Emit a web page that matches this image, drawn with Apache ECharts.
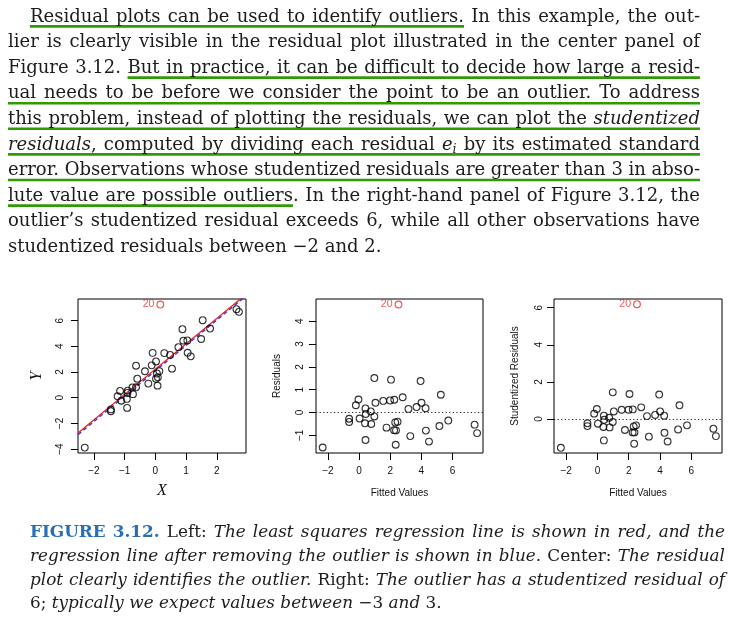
<!DOCTYPE html>
<html><head><meta charset="utf-8">
<script src="https://cdn.jsdelivr.net/npm/echarts@6/dist/echarts.min.js"></script>
<style>html,body{margin:0;padding:0;background:#fff}#c{width:734px;height:617px}</style>
</head><body><div id="c"></div>
<script>
// ---------------- data ----------------
const outlierIndex = 1;
const outlierLabel = '20';
const xVals = [-2.30, 0.16, -0.63, -0.09, 0.88, 1.54, -1.15, -1.23, -0.90, -0.59,
  -0.34, -0.12, 0.02, 0.29, 0.48, 0.75, 0.91, 1.04, -0.75, -0.91,
  -0.63, -1.11, -1.45, -1.45, -0.93, -0.73, -0.23, 0.05, 0.13, 0.02,
  0.08, 0.54, 1.05, 1.49, 1.78, 2.64, 2.72, -0.92, 0.07, 1.15];
const yVals = [-3.88, 7.25, 2.49, 3.49, 5.33, 6.03, 0.53, 0.11, 0.55, 1.48,
  2.06, 2.52, 2.82, 3.47, 3.33, 3.93, 4.44, 4.46, 0.80, 0.37,
  0.81, -0.23, -0.91, -1.05, -0.09, 0.28, 1.10, 1.89, 2.07, 1.48,
  1.59, 2.26, 3.50, 4.57, 5.38, 6.89, 6.68, -0.79, 0.94, 3.22];
const fittedVals = [-2.34, 2.53, 0.98, 2.05, 3.95, 5.25, -0.04, -0.21, 0.41, 1.05,
  1.55, 1.99, 2.26, 2.80, 3.17, 3.69, 4.01, 4.27, 0.75, 0.43,
  0.98, 0.03, -0.64, -0.64, 0.38, 0.78, 1.76, 2.32, 2.47, 2.25,
  2.37, 3.29, 4.29, 5.16, 5.73, 7.42, 7.58, 0.41, 2.35, 4.49];
const residualVals = [-1.53, 4.73, 1.51, 1.44, 1.38, 0.78, 0.57, 0.32, 0.18, 0.43,
  0.51, 0.53, 0.56, 0.67, 0.16, 0.24, 0.43, 0.19, 0.05, -0.06,
  -0.17, -0.26, -0.27, -0.41, -0.47, -0.50, -0.66, -0.43, -0.40, -0.77,
  -0.78, -1.03, -0.79, -0.59, -0.35, -0.53, -0.90, -1.20, -1.41, -1.27];
const studentVals = [-1.55, 6.19, 1.44, 1.35, 1.32, 0.74, 0.54, 0.29, 0.18, 0.41,
  0.50, 0.50, 0.52, 0.63, 0.16, 0.22, 0.41, 0.18, 0.07, -0.04,
  -0.16, -0.25, -0.23, -0.38, -0.43, -0.45, -0.59, -0.40, -0.34, -0.72,
  -0.72, -0.95, -0.74, -0.56, -0.34, -0.52, -0.92, -1.15, -1.33, -1.21];
// regression lines (end points in data units)
const redLine = [[-2.52, -2.74], [2.95, 8.04]];
const blueLine = [[-2.52, -2.87], [2.95, 7.92]];
// axis ranges and ticks
const leftXRange = [-2.52, 2.95], leftYRange = [-4.30, 7.68];
const midXRange = [-2.77, 7.96], midYRange = [-1.77, 4.97];
const rightXRange = [-2.78, 7.97], rightYRange = [-1.83, 6.47];
const leftXTicks = [-2, -1, 0, 1, 2];
const leftYTicks = [-4, -2, 0, 2, 4, 6];
const midXTicks = [-2, 0, 2, 4, 6];
const midYTicks = [-1, 0, 1, 2, 3, 4];
const rightXTicks = [-2, 0, 2, 4, 6];
const rightYTicks = [0, 2, 4, 6];
const axisNames = { leftX: 'X', leftY: 'Y', midX: 'Fitted Values', midY: 'Residuals', rightX: 'Fitted Values', rightY: 'Studentized Residuals' };

// ---------------- text ----------------
const bodyLines = [
  [['Residual plots can be used to identify outliers.', 'r', 1], [' In this example, the out-', 'r', 0]],
  [['lier is clearly visible in the residual plot illustrated in the center panel of', 'r', 0]],
  [['Figure 3.12. ', 'r', 0], ['But in practice, it can be difficult to decide how large a resid-', 'r', 1]],
  [['ual needs to be before we consider the point to be an outlier. To address', 'r', 1]],
  [['this problem, instead of plotting the residuals, we can plot the ', 'r', 1], ['studentized', 'i', 1]],
  [['residuals', 'i', 1], [', computed by dividing each residual ', 'r', 1], ['e', 'i', 1], ['i', 'sub', 1], [' by its estimated standard', 'r', 1]],
  [['error. Observations whose studentized residuals are greater than 3 in abso-', 'r', 1]],
  [['lute value are possible outliers', 'r', 1], ['. In the right-hand panel of Figure 3.12, the', 'r', 0]],
  [['outlier\u2019s studentized residual exceeds 6, while all other observations have', 'r', 0]],
  [['studentized residuals between \u22122 and 2.', 'r', 0]]
];
const bodyJustify = [1, 1, 1, 1, 1, 1, 1, 1, 1, 0];
const captionLines = [
  [['FIGURE 3.12.', 'b', 0], [' Left: ', 'r', 0], ['The least squares regression line is shown in red, and the', 'i', 0]],
  [['regression line after removing the outlier is shown in blue.', 'i', 0], [' Center: ', 'r', 0], ['The residual', 'i', 0]],
  [['plot clearly identifies the outlier.', 'i', 0], [' Right: ', 'r', 0], ['The outlier has a studentized residual of', 'i', 0]],
  [['6; ', 'r', 0], ['typically we expect values between ', 'i', 0], ['\u22123 ', 'r', 0], ['and ', 'i', 0], ['3.', 'r', 0]]
];
const captionJustify = [1, 1, 1, 0];

// ---------------- text layout helpers ----------------
function fontStr(k, size, fam) {
  if (k === 'i') return 'italic normal ' + size + 'px ' + fam;
  if (k === 'sub') return 'italic normal ' + (size * 0.7).toFixed(2) + 'px ' + fam;
  if (k === 'b') return 'normal bold ' + size + 'px ' + fam;
  return 'normal normal ' + size + 'px ' + fam;
}
function parseLine(segs) {
  const words = []; let cur = [];
  segs.forEach(function (s) {
    const parts = s[0].split(' ');
    parts.forEach(function (p, pi) {
      if (pi > 0) { words.push(cur); cur = []; }
      if (p.length) cur.push({ t: p, k: s[1], u: !!s[2] });
    });
  });
  words.push(cur);
  return words.filter(function (w) { return w.length; });
}
function layoutText(lines, cfg) {
  const ctx = document.createElement('canvas').getContext('2d');
  const meas = function (t, k, s) { ctx.font = fontStr(k, s, cfg.family); return ctx.measureText(t).width; };
  const parsed = lines.map(parseLine);
  let size = cfg.size;
  let maxR = 0;
  parsed.forEach(function (words, li) {
    if (!cfg.justify[li]) return;
    const left = li === 0 ? cfg.firstX : cfg.x0;
    let tot = 0;
    words.forEach(function (w) { w.forEach(function (p) { tot += meas(p.t, p.k, size); }); });
    tot += (words.length - 1) * meas(' ', 'r', size) * 0.8;
    maxR = Math.max(maxR, tot / (cfg.x1 - left));
  });
  if (maxR > cfg.maxFill) size = size * cfg.maxFill / maxR;
  const els = [];
  parsed.forEach(function (words, li) {
    const left = li === 0 ? cfg.firstX : cfg.x0;
    const y = cfg.y0 + li * cfg.pitch;
    let tot = 0;
    words.forEach(function (w) { w.forEach(function (p) { p.w = meas(p.t, p.k, size); tot += p.w; }); });
    let gap = meas(' ', 'r', size);
    if (cfg.justify[li] && words.length > 1) gap = (cfg.x1 - left - tot) / (words.length - 1);
    let x = left, us = null, ue = null;
    words.forEach(function (w) {
      w.forEach(function (p) {
        const sub = p.k === 'sub';
        els.push({
          type: 'text', x: x, y: y + (sub ? size * 0.24 : 0), silent: true, z: 10,
          style: {
            text: p.t, font: fontStr(p.k, size, cfg.family),
            fill: p.k === 'b' ? cfg.boldColor : cfg.color,
            textAlign: 'left', textVerticalAlign: 'middle', align: 'left', verticalAlign: 'middle'
          }
        });
        if (p.u) { if (us === null) us = x; ue = x + p.w; }
        x += p.w;
      });
      x += gap;
    });
    if (us !== null) {
      els.push({ type: 'line', silent: true, z: 9, shape: { x1: us, y1: y + 9.4, x2: ue, y2: y + 9.4 }, style: { stroke: '#2e9a04', lineWidth: 2.6 } });
    }
  });
  return els;
}

const bodyEls = layoutText(bodyLines, {
  family: '"DejaVu Serif"', size: 18, firstX: 30, x0: 8, x1: 700, y0: 17, pitch: 25.6,
  justify: bodyJustify, maxFill: 0.99, color: '#1c1c1c', boldColor: '#1c1c1c'
});
const captionEls = layoutText(captionLines, {
  family: '"DejaVu Serif"', size: 17, firstX: 30, x0: 30, x1: 725, y0: 533, pitch: 23.6,
  justify: captionJustify, maxFill: 0.97, color: '#1c1c1c', boldColor: '#2a6fb6'
});

// ---------------- chart ----------------
function pts(xs, ys, outlier) {
  const out = [];
  xs.forEach(function (v, i) { if ((i === outlierIndex) === outlier) out.push([v, ys[i]]); });
  return out;
}
const minus = function (v) { return String(v).replace('-', '\u2212'); };
function mkAxis(gi, range, ticks, isY, name, nameFont, nameGap, labelMargin) {
  return {
    type: 'value', gridIndex: gi, min: range[0], max: range[1], position: isY ? 'left' : 'bottom',
    axisLine: { show: false, onZero: false },
    axisTick: { show: true, inside: false, length: 7, customValues: ticks, lineStyle: { color: '#000', width: 1 } },
    axisLabel: {
      show: true, customValues: ticks, rotate: isY ? 90 : 0, margin: labelMargin,
      fontFamily: '"Liberation Sans"', fontSize: 10, color: '#111', formatter: minus
    },
    splitLine: { show: false },
    name: name, nameLocation: 'middle', nameGap: nameGap, nameTextStyle: nameFont
  };
}
const sansName = { fontFamily: '"Liberation Sans"', fontSize: 10, color: '#111' };
const serifName = { fontFamily: '"Liberation Serif"', fontStyle: 'italic', fontSize: 16, color: '#111' };
const gridBase = { show: true, borderColor: '#000', borderWidth: 1, backgroundColor: 'transparent', containLabel: false, outerBoundsMode: 'none' };
const circleStyle = { color: 'rgba(0,0,0,0)', borderColor: '#000', borderWidth: 1.1 };
const redStyle = { color: 'rgba(0,0,0,0)', borderColor: '#ee2b2b', borderWidth: 1.1 };
const outLabel = { show: true, formatter: outlierLabel, position: 'left', distance: 2, color: '#ee2b2b', fontFamily: '"Liberation Sans"', fontSize: 10.5 };
const zeroLine = {
  silent: true, symbol: ['none', 'none'], animation: false, label: { show: false },
  lineStyle: { type: [1.2, 2.4], color: '#222', width: 1 }, data: [{ yAxis: 0 }]
};
function scatter(xi, data, style, extra) {
  return Object.assign({
    type: 'scatter', xAxisIndex: xi, yAxisIndex: xi, data: data, symbol: 'circle', symbolSize: 6.8,
    itemStyle: style, silent: true, emphasis: { disabled: true }, animation: false, z: 3
  }, extra || {});
}

const option = {
  backgroundColor: '#fff',
  animation: false,
  grid: [
    Object.assign({ left: 78, top: 299, width: 168, height: 154 }, gridBase),
    Object.assign({ left: 316, top: 299, width: 167, height: 154 }, gridBase),
    Object.assign({ left: 554, top: 299, width: 168, height: 154 }, gridBase)
  ],
  xAxis: [
    mkAxis(0, leftXRange, leftXTicks, false, axisNames.leftX, serifName, 30, 13),
    mkAxis(1, midXRange, midXTicks, false, axisNames.midX, sansName, 35, 13),
    mkAxis(2, rightXRange, rightXTicks, false, axisNames.rightX, sansName, 35, 13)
  ],
  yAxis: [
    mkAxis(0, leftYRange, leftYTicks, true, axisNames.leftY, serifName, 33, 13),
    mkAxis(1, midYRange, midYTicks, true, axisNames.midY, sansName, 34, 11),
    mkAxis(2, rightYRange, rightYTicks, true, axisNames.rightY, sansName, 34, 10)
  ],
  series: [
    { type: 'line', xAxisIndex: 0, yAxisIndex: 0, data: blueLine, showSymbol: false, symbol: 'none', clip: true, silent: true, z: 2,
      lineStyle: { color: '#2b3fd6', width: 1.5, type: [4, 3] } },
    { type: 'line', xAxisIndex: 0, yAxisIndex: 0, data: redLine, showSymbol: false, symbol: 'none', clip: true, silent: true, z: 2,
      lineStyle: { color: '#ea2328', width: 1.3 } },
    scatter(0, pts(xVals, yVals, false), circleStyle),
    scatter(0, pts(xVals, yVals, true), redStyle, { label: outLabel }),
    scatter(1, pts(fittedVals, residualVals, false), circleStyle, { markLine: zeroLine }),
    scatter(1, pts(fittedVals, residualVals, true), redStyle, { label: outLabel }),
    scatter(2, pts(fittedVals, studentVals, false), circleStyle, { markLine: zeroLine }),
    scatter(2, pts(fittedVals, studentVals, true), redStyle, { label: outLabel })
  ],
  graphic: { elements: bodyEls.concat(captionEls) }
};
const chart = echarts.init(document.getElementById('c'), null, { renderer: 'canvas' });
chart.setOption(option);
</script>
</body></html>
